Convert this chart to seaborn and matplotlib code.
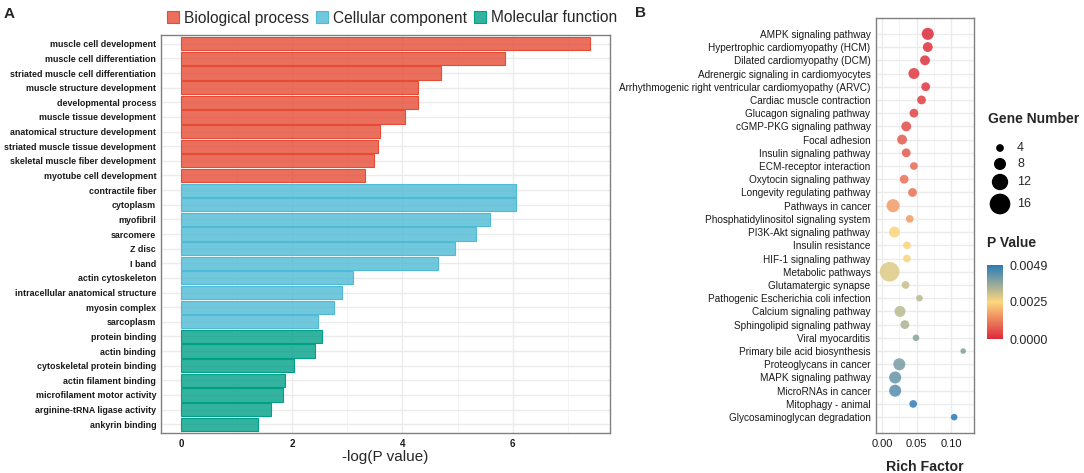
import matplotlib
matplotlib.use("Agg")
import matplotlib.pyplot as plt
import matplotlib.cm as cm
import pandas as pd
import seaborn as sns
from matplotlib.colors import LinearSegmentedColormap, Normalize, to_rgba
from matplotlib.patches import Patch
from matplotlib.ticker import MultipleLocator, FormatStrFormatter

# ---- panel A: GO enrichment, -log(P value) ----
bp_terms = ["muscle cell development", "muscle cell differentiation",
            "striated muscle cell differentiation", "muscle structure development",
            "developmental process", "muscle tissue development",
            "anatomical structure development", "striated muscle tissue development",
            "skeletal muscle fiber development", "myotube cell development"]
bp_values = [7.40, 5.86, 4.70, 4.28, 4.28, 4.04, 3.59, 3.56, 3.48, 3.32]

cc_terms = ["contractile fiber", "cytoplasm", "myofibril", "sarcomere", "Z disc",
            "I band", "actin cytoskeleton", "intracellular anatomical structure",
            "myosin complex", "sarcoplasm"]
cc_values = [6.06, 6.06, 5.58, 5.33, 4.96, 4.65, 3.10, 2.91, 2.77, 2.47]

mf_terms = ["protein binding", "actin binding", "cytoskeletal protein binding",
            "actin filament binding", "microfilament motor activity",
            "arginine-tRNA ligase activity", "ankyrin binding"]
mf_values = [2.54, 2.42, 2.04, 1.87, 1.84, 1.62, 1.38]

go_categories = ["Biological process", "Cellular component", "Molecular function"]
go_colors = ["#E64B35", "#4DBBD5", "#00A087"]

# ---- panel B: KEGG enrichment ----
pathways = ["AMPK signaling pathway", "Hypertrophic cardiomyopathy (HCM)",
            "Dilated cardiomyopathy (DCM)", "Adrenergic signaling in cardiomyocytes",
            "Arrhythmogenic right ventricular cardiomyopathy (ARVC)",
            "Cardiac muscle contraction", "Glucagon signaling pathway",
            "cGMP-PKG signaling pathway", "Focal adhesion", "Insulin signaling pathway",
            "ECM-receptor interaction", "Oxytocin signaling pathway",
            "Longevity regulating pathway", "Pathways in cancer",
            "Phosphatidylinositol signaling system", "PI3K-Akt signaling pathway",
            "Insulin resistance", "HIF-1 signaling pathway", "Metabolic pathways",
            "Glutamatergic synapse", "Pathogenic Escherichia coli infection",
            "Calcium signaling pathway", "Sphingolipid signaling pathway",
            "Viral myocarditis", "Primary bile acid biosynthesis",
            "Proteoglycans in cancer", "MAPK signaling pathway", "MicroRNAs in cancer",
            "Mitophagy - animal", "Glycosaminoglycan degradation"]
rich_factor = [0.066, 0.066, 0.062, 0.046, 0.063, 0.057, 0.046, 0.035, 0.029, 0.035,
               0.046, 0.032, 0.044, 0.016, 0.040, 0.018, 0.036, 0.036, 0.011, 0.034,
               0.054, 0.026, 0.033, 0.049, 0.117, 0.025, 0.019, 0.019, 0.045, 0.104]
gene_number = [8, 6, 6, 7, 5, 5, 5, 6, 6, 5,
               4, 5, 5, 9, 4, 7, 4, 4, 15, 4,
               3, 7, 5, 3, 2, 8, 8, 8, 4, 3]
p_value = [0.0000, 0.0001, 0.0001, 0.0002, 0.0002, 0.0003, 0.0004, 0.0005, 0.0007, 0.0007,
           0.0009, 0.0010, 0.0010, 0.0016, 0.0016, 0.0024, 0.0024, 0.0025, 0.0028, 0.0031,
           0.0032, 0.0032, 0.0034, 0.0038, 0.0039, 0.0040, 0.0042, 0.0044, 0.0048, 0.0049]
p_ticks = [0.0, 0.0025, 0.0049]
gene_breaks = [4, 8, 12, 16]

W, H = 1084, 473


def gene_area(n):
    # marker diameter grows linearly with gene count (px), returned as area in pt^2
    d_pt = (3.4 + 1.08 * n) * 0.72
    return d_pt ** 2


go_df = pd.DataFrame({
    "term": bp_terms + cc_terms + mf_terms,
    "value": bp_values + cc_values + mf_values,
    "category": [go_categories[0]] * len(bp_terms) + [go_categories[1]] * len(cc_terms)
    + [go_categories[2]] * len(mf_terms),
})
kegg_df = pd.DataFrame({"pathway": pathways, "rich": rich_factor,
                        "genes": gene_number, "pvalue": p_value})

sns.set_theme(style="white")
plt.rcParams["font.family"] = ["Liberation Sans", "DejaVu Sans"]

fig = plt.figure(figsize=(W / 100, H / 100), dpi=100)
axA = fig.add_axes([161 / W, 1 - 433 / H, (610 - 161) / W, (433 - 35) / H])
axB = fig.add_axes([876 / W, 1 - 433 / H, (974 - 876) / W, (433 - 18) / H])

# ---- panel A ----
sns.barplot(data=go_df, x="value", y="term", hue="category", hue_order=go_categories,
            palette=go_colors, dodge=False, width=0.9, saturation=1, legend=False,
            ax=axA, zorder=2)
for p in axA.patches:
    fc = p.get_facecolor()
    p.set_facecolor((fc[0], fc[1], fc[2], 0.8))
    p.set_edgecolor((fc[0], fc[1], fc[2], 1.0))
    p.set_linewidth(0.8)

axA.set_xlim(-0.37, 7.76)
axA.set_ylim(len(go_df) - 0.4, -0.6)
axA.xaxis.set_major_locator(MultipleLocator(2))
axA.xaxis.set_minor_locator(MultipleLocator(1))
axA.set_axisbelow(True)
axA.grid(which="major", color="#EBEBEB", lw=1.0)
axA.grid(which="minor", axis="x", color="#F2F2F2", lw=0.6)
axA.tick_params(axis="y", length=2.5, width=0.8, color="#333333", pad=1, labelsize=6.4)
axA.tick_params(axis="x", which="major", length=2.5, width=0.8, color="#333333", pad=1.5,
                labelsize=7)
axA.tick_params(which="minor", length=0)
for t in axA.get_yticklabels() + axA.get_xticklabels():
    t.set_fontweight("bold")
    t.set_color("#1a1a1a")
axA.set_ylabel("")
axA.set_xlabel("-log(P value)", fontsize=11, labelpad=1)
for s in axA.spines.values():
    s.set_color("#808080")
    s.set_linewidth(1.0)

handles = [Patch(facecolor=to_rgba(c, 0.8), edgecolor=c, linewidth=0.8) for c in go_colors]
fig.legend(handles, go_categories, loc="center", bbox_to_anchor=(392 / W, 1 - 18 / H),
           ncol=3, frameon=False, fontsize=11.2, handlelength=0.8, handleheight=0.75,
           handletextpad=0.3, columnspacing=0.45, borderpad=0, borderaxespad=0)

# ---- panel B ----
pcmap = LinearSegmentedColormap.from_list("pv", ["#DC2A3A", "#FCD77C", "#2A7AB8"])
pnorm = Normalize(0, 0.0049)
size_map = {n: gene_area(n) for n in sorted(set(gene_number))}
sns.scatterplot(data=kegg_df, x="rich", y="pathway", hue="pvalue", palette=pcmap,
                hue_norm=pnorm, size="genes", sizes=size_map, legend=False,
                alpha=0.85, linewidth=0, ax=axB, zorder=3)
axB.set_xlim(-0.0086, 0.1326)
axB.set_ylim(len(pathways) - 1 + 1.2, -1.2)
axB.xaxis.set_major_locator(MultipleLocator(0.05))
axB.xaxis.set_minor_locator(MultipleLocator(0.025))
axB.xaxis.set_major_formatter(FormatStrFormatter("%.2f"))
axB.set_axisbelow(True)
axB.grid(which="major", color="#EBEBEB", lw=1.0)
axB.grid(which="minor", axis="x", color="#F2F2F2", lw=0.6)
axB.tick_params(axis="y", length=2.5, width=0.8, color="#333333", pad=1.5, labelsize=7.2,
                labelcolor="#1a1a1a")
axB.tick_params(axis="x", which="major", length=2.5, width=0.8, color="#333333", pad=2,
                labelsize=8, labelcolor="#1a1a1a")
axB.tick_params(which="minor", length=0)
axB.set_ylabel("")
axB.set_xlabel("Rich Factor", fontsize=10.2, fontweight="bold", labelpad=8)
for s in axB.spines.values():
    s.set_color("#808080")
    s.set_linewidth(1.0)

# colour bar
cax = fig.add_axes([987 / W, 1 - 339 / H, 16 / W, 74 / H])
cb = fig.colorbar(cm.ScalarMappable(norm=pnorm, cmap=pcmap), cax=cax)
cb.set_ticks(p_ticks)
cb.set_ticklabels([f"{v:.4f}" for v in p_ticks])
cb.outline.set_visible(False)
cax.tick_params(length=3, width=1, color="white", direction="in", labelsize=9, pad=5)
fig.text(987 / W, 1 - 243 / H, "P Value", fontsize=10, fontweight="bold",
         ha="left", va="center")

# size legend
fig.text(988 / W, 1 - 119 / H, "Gene Number", fontsize=10, fontweight="bold",
         ha="left", va="center")
lax = fig.add_axes([0, 0, 1, 1])
lax.set_xlim(0, W)
lax.set_ylim(H, 0)
lax.axis("off")
leg_y = [148, 164, 182, 204]
lax.scatter([1000] * len(gene_breaks), leg_y, s=[gene_area(n) for n in gene_breaks],
            color="black", linewidth=0)
for n, y in zip(gene_breaks, leg_y):
    lax.text(1017, y, str(n), fontsize=9, ha="left", va="center")

fig.text(9 / W, 1 - 14 / H, "A", fontsize=11, fontweight="bold", ha="center", va="center")
fig.text(640 / W, 1 - 13 / H, "B", fontsize=11, fontweight="bold", ha="center", va="center")

fig.savefig("out.png", dpi=100)
